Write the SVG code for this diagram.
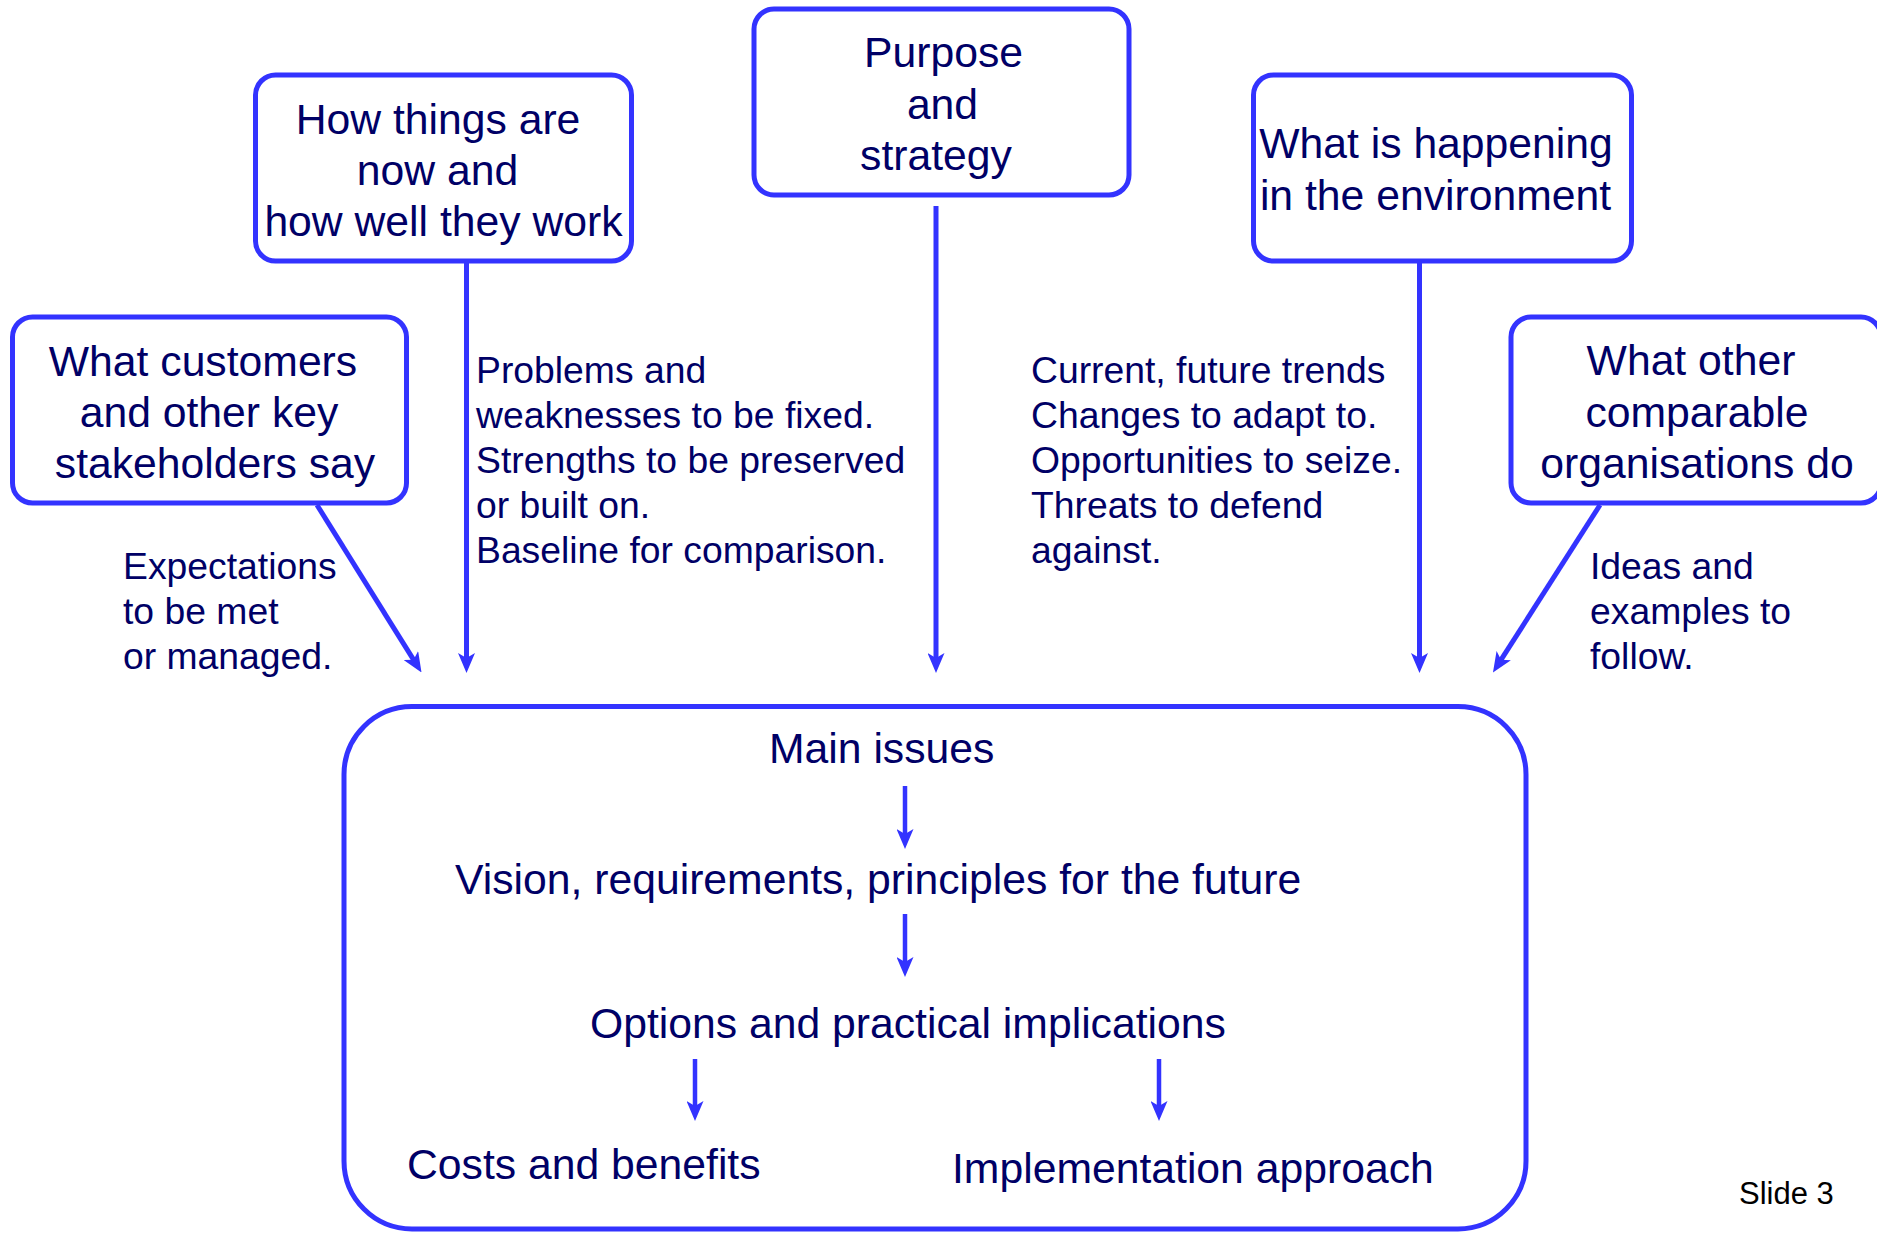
<svg xmlns="http://www.w3.org/2000/svg" width="1877" height="1233" viewBox="0 0 1877 1233">
<defs>
<style>
.box{fill:#fff;stroke:#3333ff;stroke-width:5}
.big{fill:#fff;stroke:#3333ff;stroke-width:5}
.lg{font-family:"Liberation Sans",Arial,sans-serif;font-size:42.7px;fill:#000066}
.sm{font-family:"Liberation Sans",Arial,sans-serif;font-size:37.3px;fill:#000066}
.c{text-anchor:middle}
.con{stroke:#3333ff;stroke-width:5;fill:none;marker-end:url(#ah)}
.inn{stroke:#3333ff;stroke-width:4.5;fill:none;marker-end:url(#ah)}
</style>
<marker id="ah" viewBox="0 0 20 17" refX="6" refY="8.5" markerWidth="20" markerHeight="17" markerUnits="userSpaceOnUse" orient="auto">
<path d="M0,0 L20,8.5 L0,17 L5,8.5 z" fill="#3333ff"/>
</marker>
</defs>
<rect width="1877" height="1233" fill="#fff"/>

<g id="main">
<rect class="big" x="344" y="706.5" width="1182" height="522.5" rx="68" ry="68"/>
<text class="lg" x="769" y="763">Main issues</text>
<text class="lg" x="455" y="894">Vision, requirements, principles for the future</text>
<text class="lg" x="590" y="1038">Options and practical implications</text>
<text class="lg" x="407" y="1179">Costs and benefits</text>
<text class="lg" x="952" y="1183">Implementation approach</text>
</g>

<g id="how">
<rect class="box" x="255.5" y="75" width="376" height="186" rx="20" ry="20"/>
<text class="lg c" x="438" y="134">How things are</text>
<text class="lg c" x="437.5" y="185">now and</text>
<text class="lg c" x="443.5" y="236">how well they work</text>
</g>

<g id="customers">
<rect class="box" x="12.5" y="317" width="394" height="186" rx="20" ry="20"/>
<text class="lg c" x="203" y="376">What customers</text>
<text class="lg c" x="209" y="427">and other key</text>
<text class="lg c" x="215" y="478">stakeholders say</text>
</g>

<g id="purpose">
<rect class="box" x="754" y="9" width="375" height="186" rx="20" ry="20"/>
<text class="lg c" x="943.5" y="67">Purpose</text>
<text class="lg c" x="942.5" y="118.5">and</text>
<text class="lg c" x="936" y="170">strategy</text>
</g>

<g id="environment">
<rect class="box" x="1253.5" y="75" width="378" height="186" rx="20" ry="20"/>
<text class="lg c" x="1436" y="158">What is happening</text>
<text class="lg c" x="1435.5" y="210">in the environment</text>
</g>

<g id="other">
<rect class="box" x="1511" y="317" width="370" height="186" rx="20" ry="20"/>
<text class="lg c" x="1691" y="375">What other</text>
<text class="lg c" x="1697" y="427">comparable</text>
<text class="lg c" x="1697" y="478">organisations do</text>
</g>

<g id="labels">
<text class="sm" x="476" y="383">Problems and</text>
<text class="sm" x="476" y="428">weaknesses to be fixed.</text>
<text class="sm" x="476" y="473">Strengths to be preserved</text>
<text class="sm" x="476" y="518">or built on.</text>
<text class="sm" x="476" y="563">Baseline for comparison.</text>
<text class="sm" x="1031" y="383">Current, future trends</text>
<text class="sm" x="1031" y="428">Changes to adapt to.</text>
<text class="sm" x="1031" y="473">Opportunities to seize.</text>
<text class="sm" x="1031" y="518">Threats to defend</text>
<text class="sm" x="1031" y="563">against.</text>
<text class="sm" x="123" y="579">Expectations</text>
<text class="sm" x="123" y="624">to be met</text>
<text class="sm" x="123" y="669">or managed.</text>
<text class="sm" x="1590" y="579">Ideas and</text>
<text class="sm" x="1590" y="624">examples to</text>
<text class="sm" x="1590" y="669">follow.</text>
<text x="1739" y="1204" style="font-family:'Liberation Sans',Arial,sans-serif;font-size:31px;fill:#000">Slide 3</text>
</g>

<g id="connectors">
<line class="con" x1="466.5" y1="261" x2="466.5" y2="659"/>
<line class="con" x1="317" y1="505" x2="414.1" y2="660.6"/>
<line class="con" x1="936" y1="206" x2="936" y2="659"/>
<line class="con" x1="1419.5" y1="261" x2="1419.5" y2="659"/>
<line class="con" x1="1600" y1="505" x2="1500.5" y2="660.7"/>
<line class="inn" x1="905" y1="786" x2="905" y2="835"/>
<line class="inn" x1="905" y1="914" x2="905" y2="963"/>
<line class="inn" x1="695" y1="1059" x2="695" y2="1107"/>
<line class="inn" x1="1159" y1="1059" x2="1159" y2="1107"/>
</g>
</svg>
